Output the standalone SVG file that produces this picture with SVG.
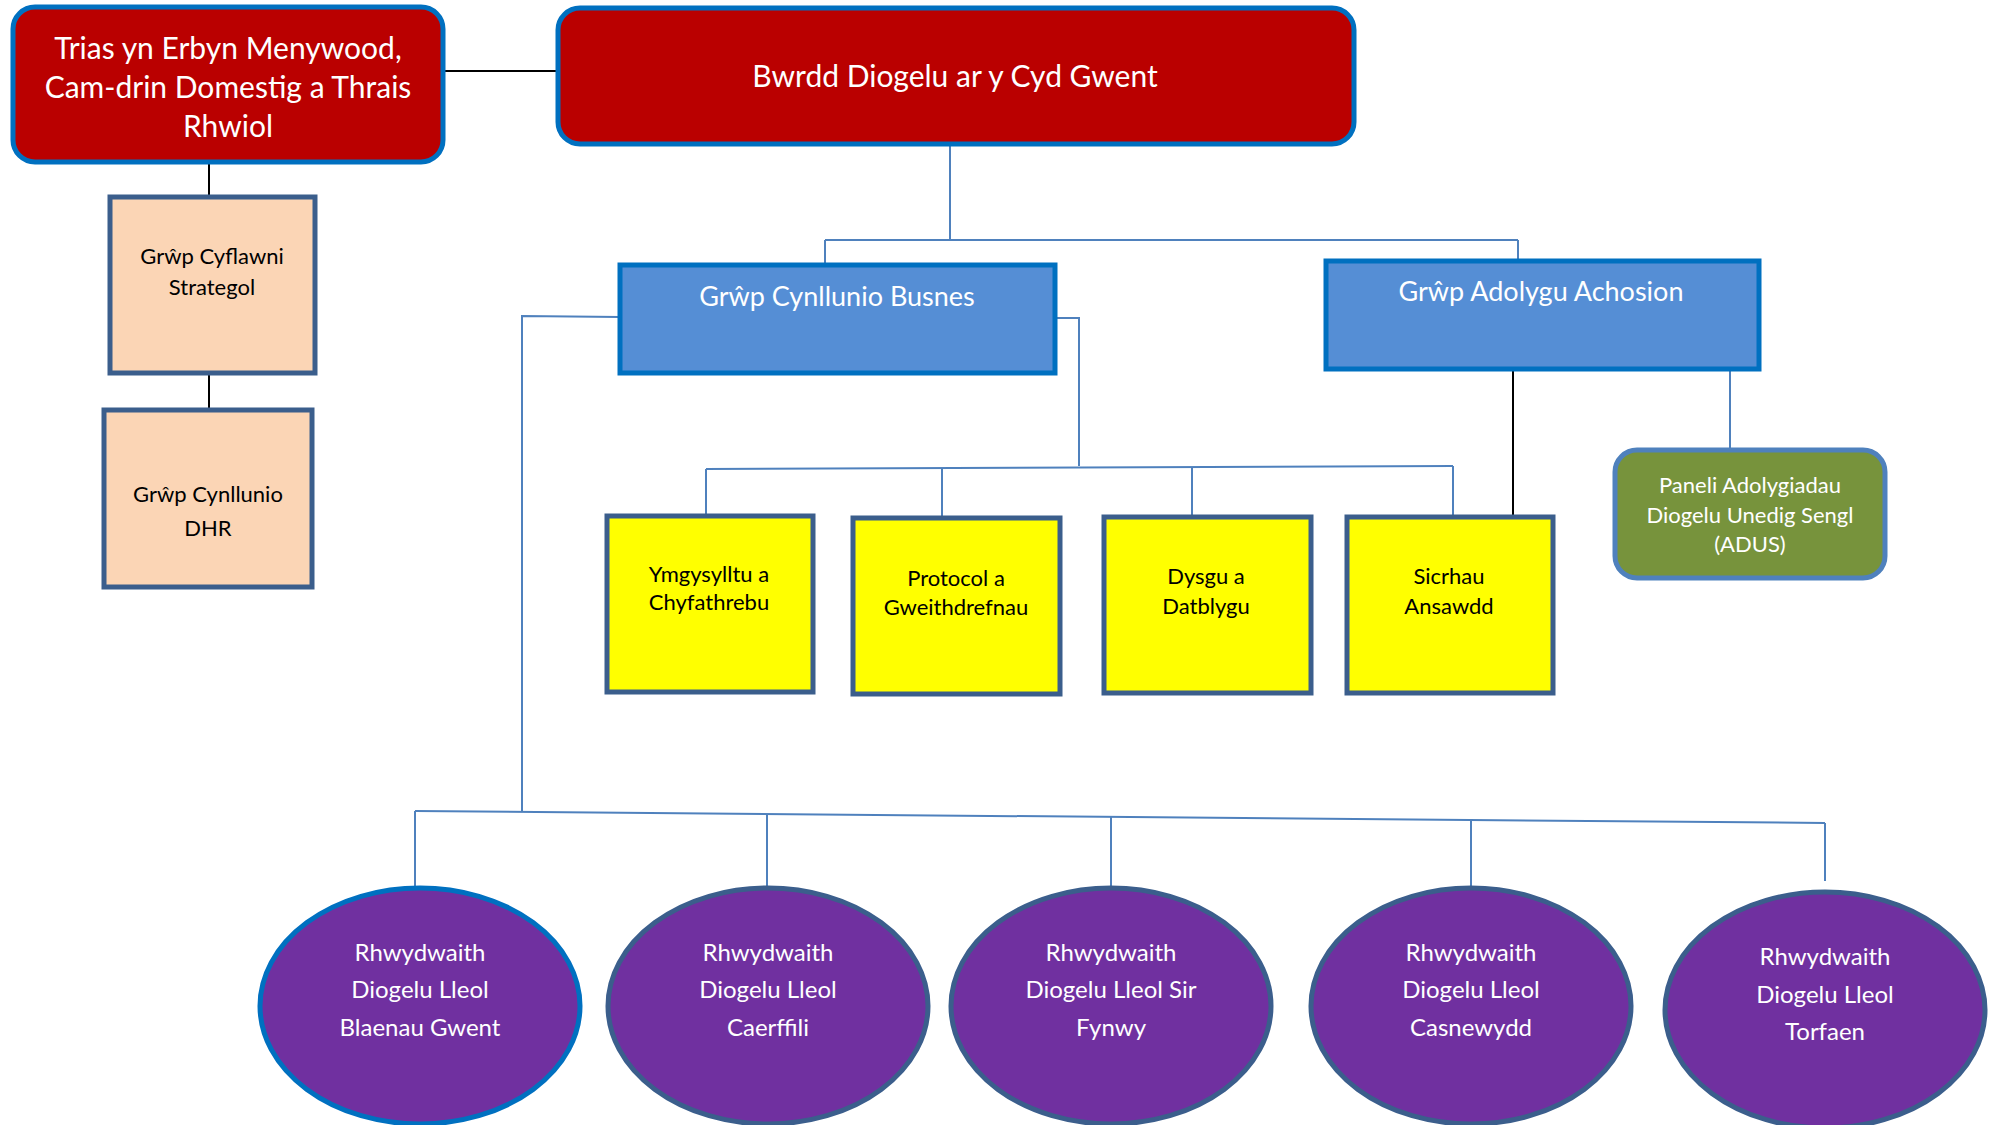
<svg xmlns="http://www.w3.org/2000/svg" width="1997" height="1125" viewBox="0 0 1997 1125">
<style>
text{font-family:Lato,"Liberation Sans",sans-serif;text-anchor:middle}
.w{fill:#fff}.k{fill:#000}
.red{fill:#BA0000;stroke:#0070C0;stroke-width:5}
.blue{fill:#558ED5;stroke:#0070C0;stroke-width:5}
.peach{fill:#FBD5B5;stroke:#3B5E8C;stroke-width:5}
.yel{fill:#FFFF00;stroke:#3B5E8C;stroke-width:5}
.olive{fill:#77933C;stroke:#4F81BD;stroke-width:5}
.pur{fill:#7030A0;stroke:#3B5E8C;stroke-width:5}
.cb{stroke:#4F81BD;stroke-width:2;fill:none}
.ck{stroke:#000;stroke-width:2;fill:none}
</style>
<rect width="1997" height="1125" fill="#fff"/>
<g id="connectors">
<path class="ck" d="M443 71H558"/>
<path class="ck" d="M209 162V197"/>
<path class="ck" d="M209 373V410"/>
<path class="cb" d="M950 144V240"/>
<path class="cb" d="M825 240H1518"/>
<path class="cb" d="M825 240V265"/>
<path class="cb" d="M1518 240V261"/>
<path class="cb" d="M620 317L522 316V811"/>
<path class="cb" d="M415 811L1825 823"/>
<path class="cb" d="M415 811V888"/>
<path class="cb" d="M767 814V888"/>
<path class="cb" d="M1111 816V888"/>
<path class="cb" d="M1471 819V888"/>
<path class="cb" d="M1825 823V881"/>
<path class="cb" d="M1055 318H1079V466"/>
<path class="cb" d="M706 469L1453 466"/>
<path class="cb" d="M706 469V516"/>
<path class="cb" d="M942 468V518"/>
<path class="cb" d="M1192 467V517"/>
<path class="cb" d="M1453 466V517"/>
<path class="ck" d="M1513 369V517"/>
<path class="cb" d="M1730 369V450"/>
</g>
<g id="trias">
<rect class="red" x="13" y="7" width="430" height="155" rx="22"/>
<text class="w" font-size="30" x="228" y="59">Trias yn Erbyn Menywood,</text>
<text class="w" font-size="30" x="228" y="98">Cam-drin Domestig a Thrais</text>
<text class="w" font-size="30" x="228" y="137">Rhwiol</text>
</g>
<g id="bwrdd">
<rect class="red" x="558" y="8" width="796" height="136" rx="22"/>
<text class="w" font-size="30" x="955" y="87">Bwrdd Diogelu ar y Cyd Gwent</text>
</g>
<g id="cyflawni">
<rect class="peach" x="110" y="197" width="205" height="176"/>
<text class="k" font-size="22" x="212" y="264">Grŵp Cyflawni</text>
<text class="k" font-size="22" x="212" y="295">Strategol</text>
</g>
<g id="dhr">
<rect class="peach" x="104" y="410" width="208" height="177"/>
<text class="k" font-size="22" x="208" y="502">Grŵp Cynllunio</text>
<text class="k" font-size="22" x="208" y="536">DHR</text>
</g>
<g id="busnes">
<rect class="blue" x="620" y="265" width="435" height="108"/>
<text class="w" font-size="27" x="837" y="306">Grŵp Cynllunio Busnes</text>
</g>
<g id="adolygu">
<rect class="blue" x="1326" y="261" width="433" height="108"/>
<text class="w" font-size="27" x="1541" y="301">Grŵp Adolygu Achosion</text>
</g>
<g id="adus">
<rect class="olive" x="1615" y="450" width="270" height="128" rx="22"/>
<text class="w" font-size="22" x="1750" y="493">Paneli Adolygiadau</text>
<text class="w" font-size="22" x="1750" y="523">Diogelu Unedig Sengl</text>
<text class="w" font-size="22" x="1750" y="552">(ADUS)</text>
</g>
<g id="ymgysylltu">
<rect class="yel" x="607" y="516" width="206" height="176"/>
<text class="k" font-size="22" x="709" y="582">Ymgysylltu a</text>
<text class="k" font-size="22" x="709" y="610">Chyfathrebu</text>
</g>
<g id="protocol">
<rect class="yel" x="853" y="518" width="207" height="176"/>
<text class="k" font-size="22" x="956" y="586">Protocol a</text>
<text class="k" font-size="22" x="956" y="615">Gweithdrefnau</text>
</g>
<g id="dysgu">
<rect class="yel" x="1104" y="517" width="207" height="176"/>
<text class="k" font-size="22" x="1206" y="584">Dysgu a</text>
<text class="k" font-size="22" x="1206" y="614">Datblygu</text>
</g>
<g id="sicrhau">
<rect class="yel" x="1347" y="517" width="206" height="176"/>
<text class="k" font-size="22" x="1449" y="584">Sicrhau</text>
<text class="k" font-size="22" x="1449" y="614">Ansawdd</text>
</g>
<g id="blaenau">
<ellipse class="pur" style="stroke:#0070C0" cx="420" cy="1006" rx="160" ry="118"/>
<text class="w" font-size="24" x="420" y="961">Rhwydwaith</text>
<text class="w" font-size="24" x="420" y="998">Diogelu Lleol</text>
<text class="w" font-size="24" x="420" y="1036">Blaenau Gwent</text>
</g>
<g id="caerffili">
<ellipse class="pur" cx="768" cy="1006" rx="160" ry="118"/>
<text class="w" font-size="24" x="768" y="961">Rhwydwaith</text>
<text class="w" font-size="24" x="768" y="998">Diogelu Lleol</text>
<text class="w" font-size="24" x="768" y="1036">Caerffili</text>
</g>
<g id="fynwy">
<ellipse class="pur" cx="1111" cy="1006" rx="160" ry="118"/>
<text class="w" font-size="24" x="1111" y="961">Rhwydwaith</text>
<text class="w" font-size="24" x="1111" y="998">Diogelu Lleol Sir</text>
<text class="w" font-size="24" x="1111" y="1036">Fynwy</text>
</g>
<g id="casnewydd">
<ellipse class="pur" cx="1471" cy="1006" rx="160" ry="118"/>
<text class="w" font-size="24" x="1471" y="961">Rhwydwaith</text>
<text class="w" font-size="24" x="1471" y="998">Diogelu Lleol</text>
<text class="w" font-size="24" x="1471" y="1036">Casnewydd</text>
</g>
<g id="torfaen">
<ellipse class="pur" cx="1825" cy="1010" rx="160" ry="118"/>
<text class="w" font-size="24" x="1825" y="965">Rhwydwaith</text>
<text class="w" font-size="24" x="1825" y="1003">Diogelu Lleol</text>
<text class="w" font-size="24" x="1825" y="1040">Torfaen</text>
</g>
</svg>
